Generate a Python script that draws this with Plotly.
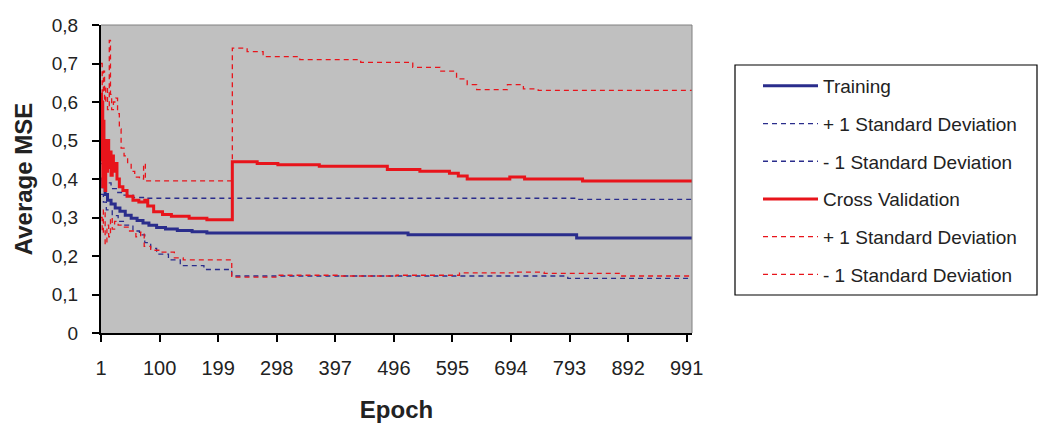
import plotly.graph_objects as go

# ---------------- data ----------------
tr_epoch = [1, 4, 8, 12, 18, 25, 33, 42, 52, 62, 72, 82, 95, 110, 130, 155, 180, 520, 805, 1000]
tr_mse = [0.40, 0.38, 0.36, 0.345, 0.335, 0.325, 0.316, 0.306, 0.298, 0.292, 0.286, 0.28, 0.274, 0.27, 0.266, 0.263, 0.26, 0.255, 0.247, 0.247]

tr_up_epoch = [1, 5, 10, 18, 28, 40, 55, 75, 805, 1000]
tr_up_mse = [0.44, 0.42, 0.39, 0.375, 0.365, 0.358, 0.352, 0.35, 0.347, 0.347]

tr_lo_epoch = [1, 5, 10, 20, 30, 40, 55, 66, 75, 85, 95, 115, 135, 175, 222, 600, 790, 1000]
tr_lo_mse = [0.36, 0.34, 0.32, 0.305, 0.29, 0.28, 0.265, 0.255, 0.235, 0.22, 0.205, 0.19, 0.175, 0.165, 0.148, 0.148, 0.142, 0.142]

cv_epoch = [1, 2, 3, 4, 5, 6, 7, 8, 9, 10, 12, 14, 16, 18, 20, 22, 25, 28, 32, 38, 45, 55, 65, 75, 80, 90,
            105, 120, 150, 180, 223, 265, 300, 370, 485, 540, 590, 605, 620, 692, 717, 815, 1000]
cv_mse = [0.62, 0.45, 0.60, 0.38, 0.55, 0.40, 0.50, 0.37, 0.48, 0.42, 0.50, 0.43, 0.47, 0.41, 0.46, 0.42, 0.44,
          0.40, 0.38, 0.37, 0.355, 0.345, 0.34, 0.345, 0.33, 0.315, 0.308, 0.303, 0.298, 0.294, 0.445, 0.44,
          0.437, 0.433, 0.425, 0.42, 0.415, 0.408, 0.40, 0.405, 0.40, 0.395, 0.395]

cv_up_epoch = [1, 3, 5, 7, 9, 12, 15, 17, 19, 22, 26, 29, 32, 35, 40, 46, 52, 58, 66, 73, 76, 223, 248, 275,
               337, 440, 528, 574, 602, 620, 636, 688, 715, 740, 1000]
cv_up_mse = [0.70, 0.62, 0.68, 0.60, 0.64, 0.58, 0.76, 0.62, 0.58, 0.60, 0.61, 0.57, 0.53, 0.48, 0.46, 0.44,
             0.42, 0.405, 0.40, 0.44, 0.395, 0.74, 0.731, 0.718, 0.71, 0.703, 0.69, 0.68, 0.66, 0.645, 0.632,
             0.645, 0.634, 0.63, 0.63]

cv_lo_epoch = [1, 3, 5, 8, 11, 14, 17, 20, 24, 30, 38, 48, 60, 68, 74, 85, 100, 125, 140, 222, 300, 400, 500,
               607, 700, 750, 878, 1000]
cv_lo_mse = [0.30, 0.26, 0.32, 0.23, 0.28, 0.25, 0.30, 0.27, 0.29, 0.28, 0.275, 0.265, 0.25, 0.262, 0.225,
             0.215, 0.21, 0.195, 0.19, 0.145, 0.15, 0.148, 0.15, 0.156, 0.158, 0.155, 0.148, 0.148]

x_tick_vals = [1, 100, 199, 298, 397, 496, 595, 694, 793, 892, 991]
y_tick_vals = [0, 0.1, 0.2, 0.3, 0.4, 0.5, 0.6, 0.7, 0.8]
y_tick_text = ["0", "0,1", "0,2", "0,3", "0,4", "0,5", "0,6", "0,7", "0,8"]

# ---------------- styling ----------------
BLUE = "#2A2D8C"
RED = "#E8141B"
DASH = "5px,4px"

fig = go.Figure()

def add(x, y, name, color, width, dash=None, group=""):
    fig.add_trace(go.Scatter(
        x=x, y=y, name=name, mode="lines", line_shape="hv",
        line=dict(color=color, width=width, dash=dash),
        legendgroup=group,
    ))

add(tr_epoch, tr_mse, "Training", BLUE, 3, None, "g1")
add(tr_up_epoch, tr_up_mse, "+ 1 Standard Deviation", BLUE, 1.3, DASH, "g2")
add(tr_lo_epoch, tr_lo_mse, "- 1 Standard Deviation", BLUE, 1.3, DASH, "g3")
add(cv_epoch, cv_mse, "Cross Validation", RED, 3, None, "g4")
add(cv_up_epoch, cv_up_mse, "+ 1 Standard Deviation", RED, 1.3, DASH, "g5")
add(cv_lo_epoch, cv_lo_mse, "- 1 Standard Deviation", RED, 1.3, DASH, "g6")

FONT = "Liberation Sans, Arial, sans-serif"
PLOT_W = 1040 - 101 - 348
PLOT_H = 423 - 25 - 90

def px_x(px):
    return (px - 101) / PLOT_W

def px_y(py):
    return (423 - 90 - py) / PLOT_H

fig.update_layout(
    width=1040, height=423,
    margin=dict(l=101, r=348, t=25, b=90, autoexpand=False),
    paper_bgcolor="white",
    plot_bgcolor="#C0C0C0",
    font=dict(family=FONT, size=18, color="#222222"),
    showlegend=True,
    legend=dict(
        x=px_x(758), y=px_y(67), xanchor="left", yanchor="top",
        borderwidth=0, bgcolor="rgba(0,0,0,0)",
        font=dict(family=FONT, size=19, color="#222222"),
        tracegroupgap=10,
        traceorder="grouped",
        itemwidth=55,
    ),
    xaxis=dict(
        range=[1, 1000], tickmode="array", tickvals=x_tick_vals,
        ticks="outside", ticklen=7, tickcolor="black", tickwidth=1.5,
        showline=True, linecolor="black", linewidth=2,
        showgrid=False, zeroline=False, automargin=False,
        ticklabelstandoff=9,
        tickfont=dict(size=20),
        title=dict(text="<b>Epoch</b>", font=dict(size=24, color="#222222"), standoff=24),
    ),
    yaxis=dict(
        range=[0, 0.8], tickmode="array", tickvals=y_tick_vals, ticktext=y_tick_text,
        ticks="outside", ticklen=7, tickcolor="black", tickwidth=1.5,
        showline=True, linecolor="black", linewidth=2,
        showgrid=False, zeroline=False, automargin=False,
        ticklabelstandoff=10,
        tickfont=dict(size=19),
        title=dict(text="<b>Average MSE</b>", font=dict(size=24, color="#222222"), standoff=12),
    ),
    shapes=[
        dict(type="line", xref="paper", yref="paper", x0=0, x1=1, y0=1, y1=1,
             line=dict(color="#808080", width=1)),
        dict(type="line", xref="paper", yref="paper", x0=1, x1=1, y0=0, y1=1,
             line=dict(color="#808080", width=1)),
        dict(type="rect", xref="paper", yref="paper",
             x0=px_x(735), x1=px_x(1037), y0=px_y(295), y1=px_y(65),
             line=dict(color="black", width=1.2), fillcolor="rgba(0,0,0,0)"),
    ],
)

fig.write_html("out.html")
